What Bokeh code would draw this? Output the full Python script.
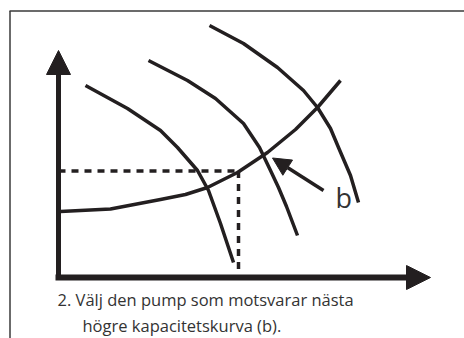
from bokeh.plotting import figure
from bokeh.models import Range1d, Arrow, NormalHead, Label
from bokeh.embed import file_html
from bokeh.resources import INLINE

# ---- data (flow Q, head H), schematic units ----
pump_a_q = [27, 69, 102, 119, 139, 150, 162, 175]
pump_a_h = [192, 169, 147, 130, 107, 87, 54, 15]

pump_b_q = [90, 129, 157, 185, 201, 212, 220, 228, 239]
pump_b_h = [217, 197, 179, 154, 130, 107, 90, 71, 42]

pump_c_q = [151, 185, 219, 245, 259, 272, 280, 292, 300]
pump_c_h = [252, 234, 210, 187, 170, 149, 130, 102, 75]

system_q = [2, 52, 102, 127, 149, 179, 209, 237, 259, 282]
system_h = [66, 68.5, 78, 83, 90, 105, 125, 148, 170, 197]

op_q = 180      # required flow
op_h = 106.5    # required head

pointer_from = (265, 87)
pointer_to = (214, 119.5)

CAPTION_1 = "2. Välj den pump som motsvarar nästa"
CAPTION_2 = "högre kapacitetskurva (b)."
LABEL_B = "b"

INK = "#231f20"
TEXT = "#333333"
FONT = "Open Sans"

p = figure(width=464, height=338, output_backend="svg", toolbar_location=None,
           x_range=Range1d(-58, 406), y_range=Range1d(-61, 277),
           x_axis_type=None, y_axis_type=None, min_border=0,
           outline_line_color=None, background_fill_color="white",
           border_fill_color="white")
p.grid.visible = False

# frame (top and left edges)
p.segment(x0=[-49, -48.5], y0=[266.5, 266.5], x1=[406, -48.5], y1=[266.5, -61],
          line_color="#3a3a3a", line_width=1.5)

# dashed guides to operating point
p.line([0, op_q], [op_h, op_h], line_color=INK, line_width=3.5, line_dash="7 6")
p.line([op_q, op_q], [op_h, 0], line_color=INK, line_width=3.5, line_dash="7 6")

# curves
for qs, hs in [(pump_a_q, pump_a_h), (pump_b_q, pump_b_h), (pump_c_q, pump_c_h),
               (system_q, system_h)]:
    p.line(qs, hs, line_color=INK, line_width=3.5, line_join="round")

# axes with arrow heads
p.add_layout(Arrow(end=NormalHead(size=24, fill_color=INK, line_color=INK, line_width=1),
                   x_start=0, y_start=-2, x_end=0, y_end=227,
                   line_color=INK, line_width=5))
p.add_layout(Arrow(end=NormalHead(size=24, fill_color=INK, line_color=INK, line_width=1),
                   x_start=-3, y_start=0, x_end=372, y_end=0,
                   line_color=INK, line_width=6))

# pointer to curve b
p.add_layout(Arrow(end=NormalHead(size=18, fill_color=INK, line_color=INK, line_width=1),
                   x_start=pointer_from[0], y_start=pointer_from[1],
                   x_end=pointer_to[0], y_end=pointer_to[1],
                   line_color=INK, line_width=3.5))

p.add_layout(Label(x=277, y=80, text=LABEL_B, text_font=FONT, text_font_size="27px",
                   text_color=TEXT, text_baseline="alphabetic", text_align="left"))
p.add_layout(Label(x=-1, y=-22, text=CAPTION_1, text_font=FONT, text_font_size="16.5px",
                   text_color=TEXT, text_baseline="alphabetic", text_align="left"))
p.add_layout(Label(x=24, y=-48, text=CAPTION_2, text_font=FONT, text_font_size="16.5px",
                   text_color=TEXT, text_baseline="alphabetic", text_align="left"))

open("out.html", "w", encoding="utf-8").write(file_html(p, INLINE))
